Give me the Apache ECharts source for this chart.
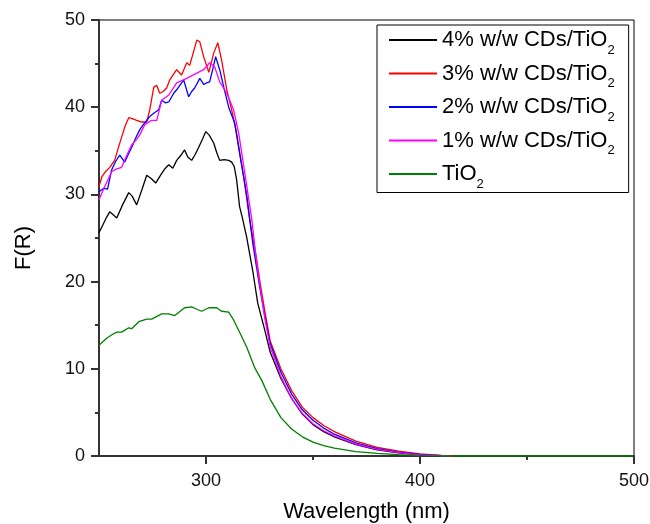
<!DOCTYPE html>
<html>
<head>
<meta charset="utf-8">
<script src="https://cdn.jsdelivr.net/npm/echarts@6/dist/echarts.min.js"></script>
<style>
    html, body { margin: 0; padding: 0; background: #fff; }
    #chart { width: 650px; height: 524px; }
</style>
</head>
<body>
<div id="chart"></div>
<script>
    // series names (legend text) and colours
    const seriesNames = ['4% w/w CDs/TiO2', '3% w/w CDs/TiO2', '2% w/w CDs/TiO2', '1% w/w CDs/TiO2', 'TiO2']
    const seriesColors = ['#000000', '#ff0000', '#0000ff', '#ff00ff', '#008000']

    // 4% w/w
    const wl4 = [250, 252, 253.6, 255, 256.5, 258.3, 261, 263.9, 265.5, 267.6, 270, 272.3, 274.5, 276.5, 279, 281, 282.6, 284.5, 286.3, 288, 290, 291.5, 293.3, 295, 296.6, 298.5, 299.9, 301.5, 303.6, 305, 306.4, 308.5, 310.6, 312, 313.2, 314.3, 315.7, 317, 319, 321.8, 324.2, 327.5, 330, 335, 340, 345, 350, 355, 360, 370, 380, 390, 400, 410]
    const f4 = [25.6, 26.6, 27.4, 28.0, 27.7, 27.3, 28.8, 30.2, 29.8, 28.8, 30.5, 32.2, 31.8, 31.3, 32.3, 33.0, 33.4, 33.0, 33.9, 34.4, 35.1, 34.3, 33.9, 34.6, 35.4, 36.4, 37.2, 36.8, 35.9, 34.8, 33.9, 34.0, 33.9, 33.7, 33.2, 31.7, 28.6, 27.3, 25.1, 21.3, 17.5, 14.4, 11.9, 8.9, 6.6, 4.8, 3.6, 2.8, 2.2, 1.3, 0.7, 0.35, 0.1, 0]

    // 3% w/w
    const wl3 = [250, 251.3, 253, 255, 257.3, 259, 260.6, 262.3, 263.9, 265.5, 267.6, 270, 272.3, 273.7, 275.6, 277, 278.4, 280, 281.6, 283, 285.4, 286.3, 288.6, 291, 292.4, 294, 295.7, 297.1, 298.9, 301.3, 303.6, 305.5, 307.3, 309.7, 312, 314.3, 317.6, 320.4, 323.7, 325, 327.5, 330, 335, 340, 345, 350, 355, 360, 370, 380, 390, 400, 410, 416]
    const f3 = [30.9, 32.0, 32.6, 33.1, 33.9, 35.3, 36.6, 37.9, 38.8, 38.7, 38.5, 38.3, 38.3, 39.7, 42.3, 42.5, 41.6, 41.8, 42.2, 43.1, 44.0, 44.3, 43.7, 45.1, 44.8, 46.2, 47.7, 47.5, 45.8, 44.0, 46.2, 47.4, 45.4, 42.0, 39.7, 37.0, 32.0, 27.1, 22.5, 20.3, 16.6, 13.2, 10.0, 7.5, 5.6, 4.4, 3.5, 2.8, 1.7, 1.0, 0.55, 0.25, 0.08, 0]

    // 2% w/w
    const wl2 = [250, 252.2, 254, 255.9, 257.8, 259.7, 262, 263.7, 265.3, 267.2, 269, 270.7, 272.3, 274, 275.6, 277.9, 279.3, 281, 282.6, 284.9, 286.3, 288, 289.6, 291.9, 293.3, 294.7, 297.1, 299, 300.3, 301.7, 303, 304.5, 306.4, 308.3, 310.6, 313.4, 315.7, 319, 321.8, 325, 327.5, 330, 335, 340, 345, 350, 355, 360, 370, 380, 390, 400, 410, 414]
    const f2 = [30.3, 30.7, 30.6, 32.8, 33.8, 34.5, 33.7, 34.6, 35.4, 36.5, 37.4, 38.0, 38.5, 39.0, 39.3, 39.7, 40.8, 40.5, 40.6, 41.6, 42.0, 42.6, 43.1, 41.2, 41.8, 42.2, 43.3, 42.6, 42.8, 42.9, 44.2, 45.8, 44.3, 42.3, 40.0, 38.2, 34.7, 30.0, 24.5, 19.5, 16.0, 12.9, 9.6, 7.1, 5.3, 4.1, 3.2, 2.5, 1.5, 0.85, 0.45, 0.18, 0.05, 0]

    // 1% w/w
    const wl1 = [250, 252.7, 255.9, 258, 260.6, 263, 265.3, 267.2, 269, 271.4, 274.6, 277, 279.3, 282.6, 286.3, 291, 295.7, 298.9, 301.7, 304.1, 306.4, 309.7, 312.9, 315.3, 318.1, 321.4, 324, 327.5, 330, 335, 340, 345, 350, 355, 360, 370, 380, 390, 400, 410, 414]
    const f1 = [29.4, 30.9, 32.6, 32.9, 33.1, 34.5, 35.7, 36.2, 36.8, 38.0, 38.5, 38.5, 40.8, 41.4, 42.8, 43.3, 43.9, 44.3, 45.1, 44.6, 42.9, 41.6, 39.7, 37.0, 32.5, 27.1, 21.5, 15.8, 12.5, 9.1, 6.6, 4.9, 3.7, 2.9, 2.3, 1.35, 0.75, 0.38, 0.12, 0.03, 0]

    // TiO2
    const wl0 = [250, 253.6, 256, 258.3, 260.6, 263.9, 265.3, 268.6, 272.3, 274.6, 279.3, 282.6, 285.4, 290, 293.3, 296, 298, 301.3, 305, 307.3, 310.6, 312.9, 315.7, 319, 322.8, 326, 330, 335, 340, 345, 350, 355, 360, 370, 380, 390, 400, 410, 500]
    const f0 = [12.7, 13.5, 13.9, 14.2, 14.2, 14.7, 14.6, 15.4, 15.7, 15.7, 16.3, 16.3, 16.1, 17.0, 17.1, 16.8, 16.6, 17.0, 17.0, 16.6, 16.5, 15.6, 14.2, 12.5, 10.1, 8.7, 6.5, 4.4, 3.1, 2.2, 1.6, 1.2, 0.9, 0.5, 0.3, 0.15, 0.05, 0, 0]

    const xLabels = [300, 400, 500]
    const xMinorTicks = [350, 450]

    const wlArr = [wl4, wl3, wl2, wl1, wl0]
    const fArr = [f4, f3, f2, f1, f0]

    const fontFamily = '"Liberation Sans", Arial, sans-serif'
    let chartInstance = echarts.init(document.getElementById('chart'))

    const seriesArr = seriesNames.map((name, index) => {
        return {
            name: name,
            type: 'line',
            xAxisIndex: 0,
            showSymbol: false,
            symbol: 'none',
            animation: false,
            lineStyle: { color: seriesColors[index], width: 1.3 },
            itemStyle: { color: seriesColors[index] },
            data: wlArr[index].map((x, i) => [x, fArr[index][i]])
        }
    })

    const option = {
        backgroundColor: '#fff',
        animation: false,
        grid: {
            left: 99,
            right: 16,
            top: 20,
            bottom: 68,
            outerBoundsMode: 'none',
            containLabel: false,
            show: true,
            borderColor: '#000',
            borderWidth: 1
        },
        legend: {
            orient: 'vertical',
            left: 377,
            top: 25,
            padding: [4, 14, 2, 12],
            itemGap: 6,
            itemWidth: 48,
            itemHeight: 2,
            icon: 'rect',
            borderColor: '#000',
            borderWidth: 1,
            data: seriesNames,
            formatter: (name) => {
                // subscript the trailing 2 of TiO2
                return '{a|' + name.slice(0, -1) + '}{s|' + name.slice(-1) + '}'
            },
            textStyle: {
                rich: {
                    a: { fontSize: 22, lineHeight: 33, fontFamily: fontFamily, color: '#000' },
                    s: { fontSize: 13, lineHeight: 12, verticalAlign: 'bottom', fontFamily: fontFamily, color: '#000' }
                }
            }
        },
        xAxis: [
            {
                type: 'value',
                min: 250,
                max: 500,
                interval: 50,
                name: 'Wavelength (nm)',
                nameLocation: 'middle',
                nameGap: 45,
                nameTextStyle: { fontSize: 22, fontFamily: fontFamily, color: '#000' },
                axisLine: { show: true, lineStyle: { color: '#333', width: 2 } },
                axisTick: { show: true, inside: false, length: 8, customValues: xLabels, lineStyle: { color: '#333', width: 2 } },
                axisLabel: { customValues: xLabels, margin: 16, fontSize: 18, fontFamily: fontFamily, color: '#111' },
                splitLine: { show: false }
            },
            {
                // short minor ticks only
                type: 'value',
                position: 'bottom',
                min: 250,
                max: 500,
                interval: 50,
                axisLine: { show: false },
                axisTick: { show: true, inside: false, length: 4, customValues: xMinorTicks, lineStyle: { color: '#333', width: 2 } },
                axisLabel: { show: false },
                splitLine: { show: false }
            }
        ],
        yAxis: {
            type: 'value',
            min: 0,
            max: 50,
            interval: 10,
            name: 'F(R)',
            nameLocation: 'middle',
            nameGap: 64,
            nameTextStyle: { fontSize: 22, fontFamily: fontFamily, color: '#000', padding: [0, 20, 0, 0] },
            axisLine: { show: true, lineStyle: { color: '#333', width: 2 } },
            axisTick: { show: true, inside: false, length: 8, lineStyle: { color: '#333', width: 2 } },
            minorTick: { show: true, splitNumber: 2, length: 4, lineStyle: { color: '#333', width: 2 } },
            axisLabel: { margin: 14, fontSize: 18, fontFamily: fontFamily, color: '#111' },
            splitLine: { show: false }
        },
        series: seriesArr
    }
    chartInstance.setOption(option)
</script>
</body>
</html>
